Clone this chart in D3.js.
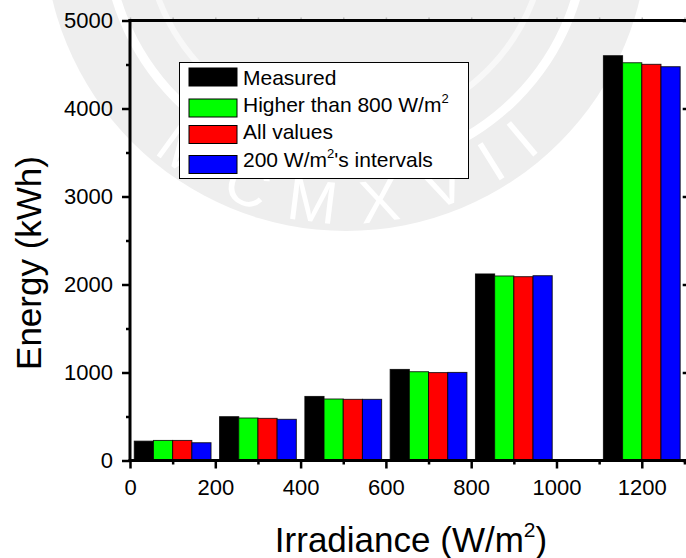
<!DOCTYPE html>
<html>
<head>
<meta charset="utf-8">
<script src="https://cdn.jsdelivr.net/npm/d3@7"></script>
<style>
  html, body { margin: 0; padding: 0; background: #ffffff; }
  svg { display: block; font-family: "Liberation Sans", Arial, sans-serif; }
</style>
</head>
<body>
<svg id="chart" width="686" height="558"></svg>
<script>
// Irradiance bin centres (W/m²)
const categories = [100, 300, 500, 700, 900, 1200];

// Energy per bin (kWh) for each estimate
const measured     = [220, 498, 728, 1035, 2120, 4600];
const higher800    = [228, 483, 699, 1009, 2097, 4520];
const allValues    = [228, 479, 695, 999, 2089, 4502];
const intervals200 = [202, 468, 695, 1001, 2100, 4475];

const seriesNames  = ["Measured", "Higher than 800 W/m", "All values", "200 W/m"];
const seriesSup    = [null, "2", null, "2"];
const seriesTail   = ["", "", "", "'s intervals"];
const seriesColors = ["#000000", "#00ff00", "#ff0000", "#0000ff"];

const xTicks      = [0, 200, 400, 600, 800, 1000, 1200];
const xMinorTicks = [100, 300, 500, 700, 900, 1100, 1300];
const yTicks      = [0, 1000, 2000, 3000, 4000, 5000];
const yMinorTicks = [500, 1500, 2500, 3500, 4500];

const series = [measured, higher800, allValues, intervals200];

const svg = d3.select("#chart");
const plotL = 130, plotR = 688.7, plotT = 20.5, plotB = 460.5;

const x = d3.scaleLinear().domain([0, 1310]).range([plotL, plotR]);
const y = d3.scaleLinear().domain([0, 5000]).range([plotB, plotT]);

// Faint seal in the background
const seal = svg.append("g").attr("class", "seal");
const sc = { x: 346, y: -71 };
seal.append("circle").attr("cx", sc.x).attr("cy", sc.y).attr("r", 302).attr("fill", "#eeeeee");
seal.append("circle").attr("cx", sc.x).attr("cy", sc.y).attr("r", 240)
  .attr("fill", "none").attr("stroke", "#ffffff").attr("stroke-width", 9);
seal.append("circle").attr("cx", sc.x).attr("cy", sc.y).attr("r", 200)
  .attr("fill", "none").attr("stroke", "#f8f8f8").attr("stroke-width", 6);
const sealLetters = ["M", "C", "M", "X", "V", "I", "I"];
const sealAngles  = [-36, -21, -7, 7, 21, 32, 40];
sealLetters.forEach((ch, i) => {
  const a = sealAngles[i] * Math.PI / 180;
  const r = 274;
  seal.append("text")
    .attr("transform", `translate(${sc.x + r * Math.sin(a)},${sc.y + r * Math.cos(a)}) rotate(${-sealAngles[i]})`)
    .attr("text-anchor", "middle")
    .attr("dominant-baseline", "central")
    .attr("font-size", 60)
    .attr("fill", "#ffffff")
    .text(ch);
});

// Bars
const barW = 45; // bar width in irradiance units
const barsG = svg.append("g");
series.forEach((vals, s) => {
  barsG.selectAll(null)
    .data(categories.map((c, i) => ({ c, v: vals[i] })))
    .enter().append("rect")
    .attr("x", d => x(d.c - 2 * barW + s * barW))
    .attr("width", d => x(d.c - 2 * barW + (s + 1) * barW) - x(d.c - 2 * barW + s * barW))
    .attr("y", d => y(d.v))
    .attr("height", d => y(0) - y(d.v))
    .attr("fill", seriesColors[s])
    .attr("stroke", "#000")
    .attr("stroke-opacity", 0.8)
    .attr("stroke-width", 1);
});

// Axes
function styleAxis(g, width) {
  g.select(".domain").remove();
  g.selectAll(".tick line").attr("stroke", "#000").attr("stroke-width", width);
}

const xAxis = svg.append("g").attr("transform", `translate(0,${plotB})`)
  .call(d3.axisBottom(x).tickValues(xTicks).tickSize(8).tickPadding(11).tickFormat(d3.format("d")));
styleAxis(xAxis, 2.5);
xAxis.selectAll("text").attr("font-size", 22).attr("fill", "#000")
  .attr("font-family", "Liberation Sans, Arial, sans-serif");

const xMinor = svg.append("g").attr("transform", `translate(0,${plotB})`)
  .call(d3.axisBottom(x).tickValues(xMinorTicks).tickSize(4).tickFormat(""));
styleAxis(xMinor, 2.5);

const yAxis = svg.append("g").attr("transform", `translate(${plotL},0)`)
  .call(d3.axisLeft(y).tickValues(yTicks).tickSize(8).tickPadding(9).tickFormat(d3.format("d")));
styleAxis(yAxis, 2.5);
yAxis.selectAll("text").attr("font-size", 22).attr("fill", "#000")
  .attr("font-family", "Liberation Sans, Arial, sans-serif");

const yMinor = svg.append("g").attr("transform", `translate(${plotL},0)`)
  .call(d3.axisLeft(y).tickValues(yMinorTicks).tickSize(4).tickFormat(""));
styleAxis(yMinor, 2.5);

const yRight = svg.append("g").attr("transform", `translate(${plotR},0)`)
  .call(d3.axisLeft(y).tickValues(yTicks).tickSize(6).tickFormat(""));
styleAxis(yRight, 2.5);

const xTop = svg.append("g").attr("transform", `translate(0,${plotT})`)
  .call(d3.axisTop(x).tickValues(xTicks.concat(xMinorTicks)).tickSize(3).tickFormat(""));
xTop.select(".domain").remove();
xTop.selectAll(".tick line").attr("stroke", "#bbbbbb").attr("stroke-width", 1.5);

// Frame
const frame = svg.append("g").attr("stroke", "#000").attr("stroke-width", 3).attr("stroke-linecap", "square");
frame.append("line").attr("x1", plotL).attr("x2", plotL).attr("y1", plotT).attr("y2", plotB);
frame.append("line").attr("x1", plotL).attr("x2", plotR).attr("y1", plotB).attr("y2", plotB);
frame.append("line").attr("x1", plotL).attr("x2", plotR).attr("y1", plotT).attr("y2", plotT);
frame.append("line").attr("x1", plotR).attr("x2", plotR).attr("y1", plotT).attr("y2", plotB);

// Axis titles
const xTitle = svg.append("text")
  .attr("x", 411).attr("y", 552)
  .attr("text-anchor", "middle")
  .attr("font-size", 35).attr("fill", "#000");
xTitle.append("tspan").text("Irradiance (W/m");
xTitle.append("tspan").attr("font-size", 21).attr("dy", -15).text("2");
xTitle.append("tspan").attr("dy", 15).text(")");

svg.append("text")
  .attr("transform", "translate(41,263) rotate(-90)")
  .attr("text-anchor", "middle")
  .attr("font-size", 35).attr("fill", "#000")
  .text("Energy (kWh)");

// Legend
const legend = svg.append("g");
legend.append("rect")
  .attr("x", 179.5).attr("y", 62.5).attr("width", 289).attr("height", 116)
  .attr("fill", "#ffffff").attr("stroke", "#000").attr("stroke-width", 1);
const rowTop = [68, 99, 125.5, 155.5];
const rowBase = [84.5, 112, 138.5, 167];
seriesNames.forEach((name, i) => {
  legend.append("rect")
    .attr("x", 189).attr("y", rowTop[i]).attr("width", 48).attr("height", 18)
    .attr("fill", seriesColors[i]).attr("stroke", "#000").attr("stroke-width", 1);
  const t = legend.append("text")
    .attr("x", 243).attr("y", rowBase[i])
    .attr("font-size", 21).attr("fill", "#000");
  t.append("tspan").text(name);
  if (seriesSup[i]) {
    t.append("tspan").attr("font-size", 13).attr("dy", -9).text(seriesSup[i]);
    if (seriesTail[i]) t.append("tspan").attr("dy", 9).text(seriesTail[i]);
  }
});
</script>
</body>
</html>
